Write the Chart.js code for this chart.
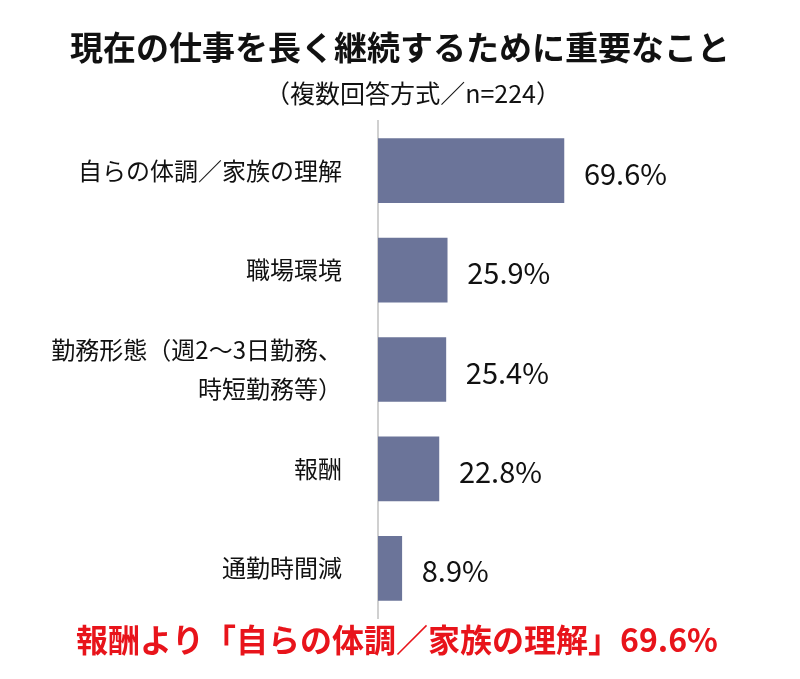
<!DOCTYPE html>
<html><head><meta charset="utf-8">
<script src="https://cdn.jsdelivr.net/npm/chart.js@4/dist/chart.umd.min.js"></script>
<style>body{margin:0;background:#fff}#wrap{width:800px;height:679px}</style>
</head><body><div id="wrap"><canvas id="c"></canvas></div>
<script>
const categories = ["自らの体調／家族の理解", "職場環境", ["勤務形態（週2～3日勤務、", "時短勤務等）"], "報酬", "通勤時間減"];
const values = [69.6, 25.9, 25.4, 22.8, 8.9];
const titleText = "現在の仕事を長く継続するために重要なこと";
const subtitleText = "（複数回答方式／n=224）";
const footerText = "報酬より「自らの体調／家族の理解」69.6%";
const FONT = "'Noto Sans CJK JP', 'Noto Sans', sans-serif";

const textPlugin = {
  id: "texts",
  afterDraw(chart) {
    const ctx = chart.ctx;
    ctx.save();
    ctx.textAlign = "center"; ctx.textBaseline = "middle";
    ctx.fillStyle = "#111";
    ctx.font = "bold 33px " + FONT;
    ctx.fillText(titleText, 400, 47);
    ctx.font = "25px " + FONT;
    ctx.fillText(subtitleText, 413, 93);
    ctx.fillStyle = "#e8141b";
    ctx.font = "bold 32px " + FONT;
    ctx.fillText(footerText, 397, 640);
    const meta = chart.getDatasetMeta(0);
    ctx.fillStyle = "#111";
    ctx.font = "29px " + FONT;
    ctx.textAlign = "left";
    meta.data.forEach((bar, i) => {
      ctx.fillText(values[i].toFixed(1) + "%", bar.x + 20, bar.y + 3);
    });
    ctx.restore();
  }
};

new Chart(document.getElementById("c"), {
  type: "bar",
  data: { labels: categories, datasets: [{ data: values, backgroundColor: "#6b7499", barThickness: 64 }] },
  options: {
    indexAxis: "y",
    responsive: true, maintainAspectRatio: false, animation: false,
    layout: { padding: { top: 121, bottom: 61, left: 0, right: 40 } },
    plugins: { legend: { display: false }, tooltip: { enabled: false } },
    scales: {
      x: { display: false, min: 0, max: 143 },
      y: {
        afterFit(s) { s.width = 378; },
        grid: { display: false },
        border: { color: "#d0d0d0", width: 2 },
        ticks: { color: "#111", padding: 28, font: { size: 24, family: FONT, lineHeight: 1.6 } }
      }
    }
  },
  plugins: [textPlugin]
});
</script></body></html>
